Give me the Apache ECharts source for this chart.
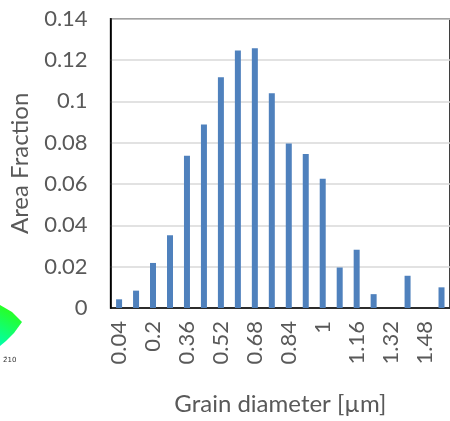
<!DOCTYPE html>
<html>
<head>
<meta charset="utf-8">
<script src="https://cdn.jsdelivr.net/npm/echarts@6/dist/echarts.min.js"></script>
<style>
  html, body { margin: 0; padding: 0; background: #fff; }
  #chart { width: 450px; height: 421px; }
</style>
</head>
<body>
<div id="chart"></div>
<script>
// grain diameter bins (µm)
const diameters = ['0.04', '0.12', '0.2', '0.28', '0.36', '0.44', '0.52', '0.6', '0.68', '0.76',
  '0.84', '0.92', '1', '1.08', '1.16', '1.24', '1.32', '1.4', '1.48', '1.56'];
// area fraction per bin
const areaFraction = [0.0042, 0.0084, 0.0218, 0.0352, 0.0737, 0.0888, 0.1117, 0.1246, 0.1257, 0.1039,
  0.0796, 0.0745, 0.0625, 0.0196, 0.0282, 0.0067, 0, 0.0156, 0, 0.010];

const font = 'Lato, "Open Sans", sans-serif';
const chart = echarts.init(document.getElementById('chart'));

chart.setOption({
  animation: false,
  grid: {
    left: 110.6,
    right: -8.6,
    top: 18.7,
    bottom: 109,
    show: true,
    borderColor: '#000',
    borderWidth: 1.5
  },
  xAxis: {
    type: 'category',
    data: diameters,
    name: 'Grain diameter [µm]',
    nameLocation: 'middle',
    nameGap: 84,
    nameTextStyle: { fontFamily: font, fontSize: 24, color: '#595959' },
    axisLine: { lineStyle: { color: '#000', width: 1.5 } },
    axisTick: { show: false },
    axisLabel: {
      interval: 1,
      rotate: 90,
      margin: 13,
      fontFamily: font,
      fontSize: 22,
      color: '#595959'
    }
  },
  yAxis: {
    type: 'value',
    min: 0,
    max: 0.14,
    interval: 0.02,
    name: 'Area Fraction',
    nameLocation: 'middle',
    nameGap: 78,
    nameTextStyle: { fontFamily: font, fontSize: 24, color: '#595959' },
    axisLine: { show: true, lineStyle: { color: '#000', width: 1.5 } },
    axisTick: { show: false },
    axisLabel: {
      margin: 23,
      fontFamily: font,
      fontSize: 22,
      color: '#595959',
      formatter: v => String(+v.toFixed(2))
    },
    splitLine: { lineStyle: { color: '#d9d9d9', width: 1.5 } }
  },
  series: [{
    type: 'bar',
    data: areaFraction,
    barWidth: 6,
    itemStyle: { color: '#4f81bd' }
  }],
  graphic: [
    {
      type: 'polygon',
      shape: { points: [[0, 305], [12, 312], [22, 322], [14, 333], [6, 341], [0, 346]] },
      style: {
        fill: new echarts.graphic.LinearGradient(1, 0, 0, 1, [
          { offset: 0, color: '#33ff00' },
          { offset: 1, color: '#00ffaa' }
        ])
      }
    },
    {
      type: 'text',
      left: 3,
      top: 357,
      style: { text: '2\u030410', font: '7px "DejaVu Sans"', fill: '#333' }
    }
  ]
});
</script>
</body>
</html>
